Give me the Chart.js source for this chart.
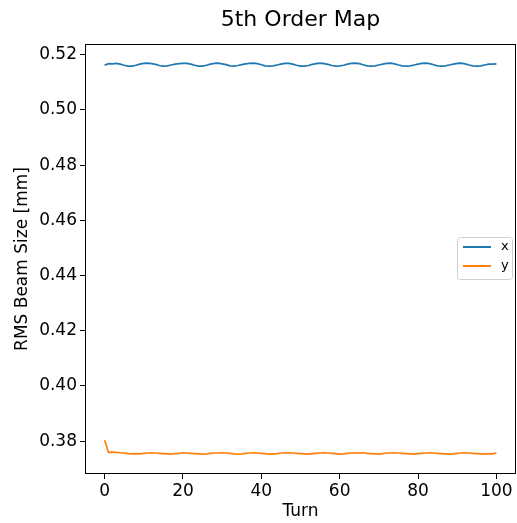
<!DOCTYPE html>
<html>
<head>
<meta charset="utf-8">
<script src="https://cdn.jsdelivr.net/npm/chart.js@4.4.0/dist/chart.umd.min.js"></script>
<style>
  html, body { margin: 0; padding: 0; background: #fff; }
  #wrap { width: 517px; height: 523px; }
</style>
</head>
<body>
<div id="wrap"><canvas id="myChart"></canvas></div>
<script>
const titleText = '5th Order Map'
const turns = Array.from({ length: 101 }, (_, i) => i)
const xTicks = [0, 20, 40, 60, 80, 100]
const yTicks = [0.38, 0.40, 0.42, 0.44, 0.46, 0.48, 0.50, 0.52]

// rms beam size in x, per turn
const rmsX = [
  0.5162, 0.5168, 0.5167, 0.5169, 0.5166, 0.5162, 0.5159, 0.5159, 0.5162, 0.5166,
  0.5169, 0.5170, 0.5168, 0.5165, 0.5161, 0.5159, 0.5160, 0.5163, 0.5166, 0.5168,
  0.5169, 0.5169, 0.5166, 0.5162, 0.5159, 0.5159, 0.5162, 0.5166, 0.5169, 0.5170,
  0.5167, 0.5164, 0.5160, 0.5159, 0.5161, 0.5164, 0.5167, 0.5169, 0.5170, 0.5168,
  0.5164, 0.5160, 0.5159, 0.5160, 0.5163, 0.5166, 0.5169, 0.5169, 0.5166, 0.5162,
  0.5159, 0.5159, 0.5161, 0.5165, 0.5168, 0.5170, 0.5168, 0.5165, 0.5161, 0.5159,
  0.5160, 0.5162, 0.5166, 0.5169, 0.5170, 0.5168, 0.5164, 0.5160, 0.5159, 0.5160,
  0.5163, 0.5166, 0.5169, 0.5170, 0.5167, 0.5163, 0.5160, 0.5159, 0.5160, 0.5163,
  0.5166, 0.5169, 0.5170, 0.5168, 0.5164, 0.5160, 0.5159, 0.5160, 0.5163, 0.5166,
  0.5169, 0.5170, 0.5167, 0.5163, 0.5160, 0.5159, 0.5160, 0.5163, 0.5166, 0.5166,
  0.5167
]

// rms beam size in y, per turn
const rmsY = [
  0.3803, 0.3759, 0.3760, 0.3759, 0.3758, 0.3757, 0.3755, 0.3754, 0.3755, 0.3754,
  0.3756, 0.3757, 0.3758, 0.3757, 0.3756, 0.3755, 0.3754, 0.3753, 0.3755, 0.3756,
  0.3758, 0.3757, 0.3756, 0.3755, 0.3754, 0.3753, 0.3754, 0.3756, 0.3757, 0.3757,
  0.3758, 0.3757, 0.3756, 0.3754, 0.3753, 0.3754, 0.3756, 0.3757, 0.3758, 0.3757,
  0.3756, 0.3755, 0.3753, 0.3754, 0.3755, 0.3757, 0.3757, 0.3758, 0.3757, 0.3756,
  0.3755, 0.3754, 0.3753, 0.3755, 0.3756, 0.3757, 0.3758, 0.3757, 0.3756, 0.3755,
  0.3753, 0.3754, 0.3756, 0.3757, 0.3758, 0.3757, 0.3758, 0.3756, 0.3755, 0.3754,
  0.3753, 0.3755, 0.3757, 0.3757, 0.3758, 0.3757, 0.3756, 0.3755, 0.3754, 0.3753,
  0.3755, 0.3756, 0.3757, 0.3758, 0.3757, 0.3756, 0.3755, 0.3754, 0.3753, 0.3754,
  0.3756, 0.3757, 0.3758, 0.3757, 0.3756, 0.3755, 0.3754, 0.3753, 0.3754, 0.3754,
  0.3757
]

const font = '"DejaVu Sans", sans-serif'

// frame, title and legend drawn by hand, matplotlib style
const framePlugin = {
  id: 'frame',
  afterDraw(chart) {
    const { ctx, chartArea: a } = chart
    ctx.save()
    ctx.strokeStyle = '#000'
    ctx.lineWidth = 1
    ctx.strokeRect(a.left + 0.5, a.top + 0.5, a.right - a.left - 1, a.bottom - a.top - 1)

    ctx.fillStyle = '#000'
    ctx.font = '22px ' + font
    ctx.textAlign = 'center'
    ctx.textBaseline = 'middle'
    ctx.fillText(titleText, (a.left + a.right) / 2, 20)

    // legend box
    const bx = 457.5, by = 237.5, bw = 55, bh = 42
    ctx.beginPath()
    ctx.roundRect(bx, by, bw, bh, 3)
    ctx.fillStyle = 'rgba(255,255,255,0.8)'
    ctx.fill()
    ctx.strokeStyle = '#d0d0d0'
    ctx.stroke()
    chart.data.datasets.forEach((ds, i) => {
      const ly = 247 + i * 19
      ctx.beginPath()
      ctx.moveTo(463, ly)
      ctx.lineTo(491, ly)
      ctx.strokeStyle = ds.borderColor
      ctx.lineWidth = 2
      ctx.stroke()
      ctx.fillStyle = '#000'
      ctx.font = '13px ' + font
      ctx.textAlign = 'left'
      ctx.fillText(ds.label, 501, ly)
    })
    ctx.restore()
  }
}

new Chart(document.getElementById('myChart'), {
  type: 'line',
  data: {
    labels: turns,
    datasets: [
      { label: 'x', data: rmsX, borderColor: '#1f77b4', borderWidth: 1.7, pointRadius: 0, fill: false, tension: 0 },
      { label: 'y', data: rmsY, borderColor: '#ff7f0e', borderWidth: 1.7, pointRadius: 0, fill: false, tension: 0 }
    ]
  },
  options: {
    responsive: true,
    maintainAspectRatio: false,
    animation: false,
    layout: { padding: { top: 44, right: 1, left: 0, bottom: 0 } },
    plugins: { legend: { display: false }, tooltip: { enabled: false }, title: { display: false } },
    scales: {
      x: {
        type: 'linear',
        min: -5,
        max: 105,
        afterBuildTicks: s => { s.ticks = xTicks.map(v => ({ value: v })) },
        afterFit: s => { s.height = 49 },
        grid: { drawOnChartArea: false, drawTicks: true, tickLength: 5, color: '#000' },
        border: { display: false },
        ticks: { color: '#000', font: { family: font, size: 17 }, padding: 2, maxRotation: 0, callback: v => v },
        title: { display: true, text: 'Turn', color: '#000', font: { family: font, size: 17 }, padding: { top: 0, bottom: 1 } }
      },
      y: {
        min: 0.3681,
        max: 0.5239,
        afterBuildTicks: s => { s.ticks = yTicks.map(v => ({ value: v })) },
        afterFit: s => { s.width = 85 },
        grid: { drawOnChartArea: false, drawTicks: true, tickLength: 5, color: '#000' },
        border: { display: false },
        ticks: { color: '#000', font: { family: font, size: 17 }, padding: 3, callback: v => v.toFixed(2) },
        title: { display: true, text: 'RMS Beam Size [mm]', color: '#000', font: { family: font, size: 17 }, padding: { top: 12, bottom: 0 } }
      }
    }
  },
  plugins: [framePlugin]
})
</script>
</body>
</html>
